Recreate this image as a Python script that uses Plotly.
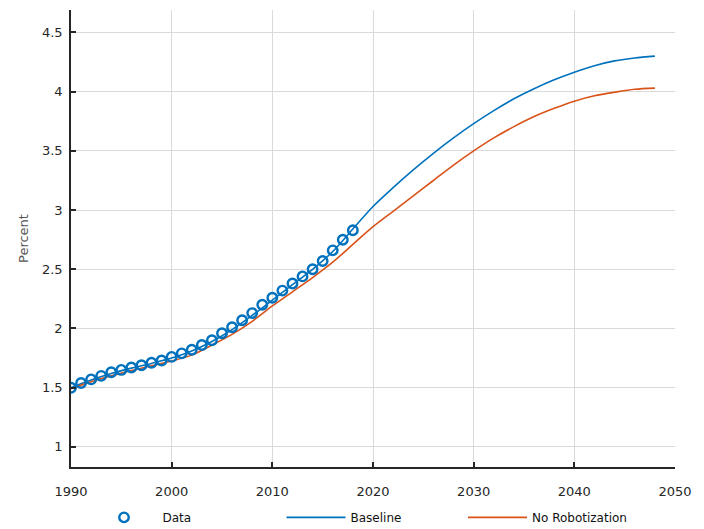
import plotly.graph_objects as go

# Observed share (percent), annual
data_years = list(range(1990, 2019))
data_values = [1.50, 1.54, 1.57, 1.60, 1.63, 1.65, 1.67, 1.69, 1.71, 1.73,
               1.76, 1.79, 1.82, 1.86, 1.90, 1.96, 2.01, 2.07, 2.13, 2.20,
               2.26, 2.32, 2.38, 2.44, 2.50, 2.57, 2.66, 2.75, 2.83]

# Model paths, every two years
model_years = list(range(1990, 2049, 2))
baseline = [1.50, 1.565, 1.62, 1.665, 1.705, 1.75, 1.81, 1.89, 1.99, 2.11,
            2.24, 2.37, 2.50, 2.65, 2.84, 3.03, 3.19, 3.34, 3.48, 3.61,
            3.73, 3.84, 3.94, 4.025, 4.10, 4.165, 4.22, 4.26, 4.285, 4.30]
no_robotization = [1.49, 1.55, 1.60, 1.645, 1.685, 1.725, 1.775, 1.86, 1.95, 2.06,
                   2.19, 2.31, 2.43, 2.56, 2.71, 2.86, 2.99, 3.12, 3.25, 3.38,
                   3.50, 3.61, 3.705, 3.79, 3.86, 3.92, 3.965, 3.995, 4.02, 4.03]

x_ticks = [1990, 2000, 2010, 2020, 2030, 2040, 2050]
y_ticks = [1, 1.5, 2, 2.5, 3, 3.5, 4, 4.5]
y_tick_text = ["1", "1.5", "2", "2.5", "3", "3.5", "4", "4.5"]

BLUE = "#0072BD"
ORANGE = "#D95319"
AXIS = "#262626"
FONT = "DejaVu Sans"

fig = go.Figure()
fig.add_trace(go.Scatter(
    x=model_years, y=baseline, mode="lines", name="Baseline",
    line=dict(color=BLUE, width=1.6, shape="spline", smoothing=0.8),
    legend="legend2",
))
fig.add_trace(go.Scatter(
    x=model_years, y=no_robotization, mode="lines", name="No Robotization",
    line=dict(color=ORANGE, width=1.6, shape="spline", smoothing=0.8),
    legend="legend3",
))
fig.add_trace(go.Scatter(
    x=data_years, y=data_values, mode="markers", name="Data",
    marker=dict(symbol="circle-open", size=9.5, color=BLUE,
                line=dict(width=2.4, color=BLUE)),
    legend="legend",
))


def legend_box(x, width):
    return dict(
        orientation="h", xref="container", yref="container",
        x=x, y=0.022, xanchor="left", yanchor="middle",
        itemwidth=width,
        font=dict(family=FONT, size=12, color="#111111"),
        bgcolor="rgba(0,0,0,0)",
    )


fig.update_layout(
    width=704, height=529,
    margin=dict(l=71, r=29, t=10, b=62, autoexpand=False),
    paper_bgcolor="white", plot_bgcolor="white",
    font=dict(family=FONT, size=12, color=AXIS),
    showlegend=True,
    legend=legend_box(85.5 / 704, 67),
    legend2=legend_box(281.5 / 704, 59),
    legend3=legend_box(463 / 704, 59),
)
fig.update_xaxes(
    range=[1990, 2050], tickvals=x_ticks,
    showgrid=True, gridcolor="#dadada", gridwidth=1,
    showline=True, linecolor=AXIS, linewidth=1.6,
    ticks="inside", ticklen=5, tickwidth=1.6, tickcolor=AXIS,
    ticklabelstandoff=12,
    tickfont=dict(family=FONT, size=13, color=AXIS),
    zeroline=False,
)
fig.update_yaxes(
    range=[0.83, 4.69], tickvals=y_ticks, ticktext=y_tick_text,
    showgrid=True, gridcolor="#dadada", gridwidth=1,
    showline=True, linecolor=AXIS, linewidth=1.6,
    ticks="inside", ticklen=5, tickwidth=1.6, tickcolor=AXIS,
    ticklabelstandoff=4,
    tickfont=dict(family=FONT, size=13, color=AXIS),
    title=dict(text="Percent", font=dict(family=FONT, size=13, color="#555555"),
               standoff=10),
    zeroline=False,
)

fig.write_html("out.html")
